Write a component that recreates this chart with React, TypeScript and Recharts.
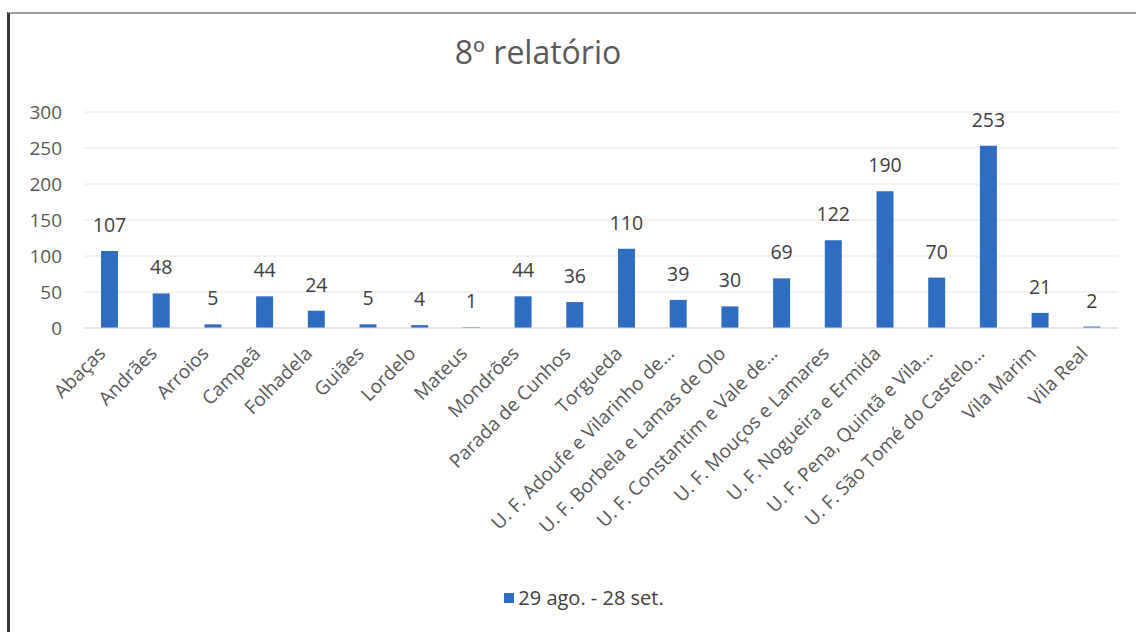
import React from "react";
import {
  BarChart,
  Bar,
  XAxis,
  YAxis,
  CartesianGrid,
  Legend,
  LabelList,
} from "recharts";

const freguesias = [
  "Abaças",
  "Andrães",
  "Arroios",
  "Campeã",
  "Folhadela",
  "Guiães",
  "Lordelo",
  "Mateus",
  "Mondrões",
  "Parada de Cunhos",
  "Torgueda",
  "U. F. Adoufe e Vilarinho de...",
  "U. F. Borbela e Lamas de Olo",
  "U. F. Constantim e Vale de...",
  "U. F. Mouços e Lamares",
  "U. F. Nogueira e Ermida",
  "U. F. Pena, Quintã e Vila...",
  "U. F. São Tomé do Castelo...",
  "Vila Marim",
  "Vila Real",
];

const casos = [107, 48, 5, 44, 24, 5, 4, 1, 44, 36, 110, 39, 30, 69, 122, 190, 70, 253, 21, 2];

const yTicks = [0, 50, 100, 150, 200, 250, 300];

const serieNome = "29 ago. - 28 set.";

const data = freguesias.map((nome, i) => ({ nome, casos: casos[i] }));

const FONT = "'Open Sans', Lato, sans-serif";
const AZUL = "#2E6DC2";

const RotatedTick = (props: any) => {
  const { x, y, payload } = props;
  return (
    <g transform={`translate(${x - 8},${y + 14})`}>
      <text
        transform="rotate(-45)"
        textAnchor="end"
        dy="0.35em"
        fill="#595959"
        fontSize={19}
        fontFamily={FONT}
      >
        {payload.value}
      </text>
    </g>
  );
};

const LegendaSerie = () => (
  <div
    style={{
      display: "flex",
      alignItems: "center",
      justifyContent: "center",
      fontFamily: FONT,
      fontSize: 20,
      color: "#404040",
      paddingLeft: 50,
    }}
  >
    <span
      style={{
        width: 10,
        height: 10,
        background: AZUL,
        display: "inline-block",
        marginRight: 4,
      }}
    />
    {serieNome}
  </div>
);

export default function App() {
  return (
    <div style={{ position: "absolute", left: 0, top: 0, width: 1136, height: 632, background: "#fff", overflow: "hidden" }}>
      <div
        style={{
          position: "absolute",
          left: 7,
          top: 12,
          width: 1126,
          height: 640,
          borderLeft: "3px solid #333",
          borderTop: "2px solid #9a9a9a",
          borderRight: "1px solid #d0d0d0",
        }}
      />
      <div
        style={{
          position: "absolute",
          left: 0,
          width: 1076,
          top: 30,
          textAlign: "center",
          fontFamily: FONT,
          fontSize: 32,
          color: "#595959",
        }}
      >
        8º relatório
      </div>
      <div style={{ position: "absolute", left: 0, top: 0 }}>
        <BarChart
          width={1136}
          height={632}
          data={data}
          margin={{ top: 112, right: 18, left: 0, bottom: 20 }}
          barCategoryGap="33%"
        >
          <CartesianGrid vertical={false} stroke="#e6e6e6" />
          <XAxis
            dataKey="nome"
            interval={0}
            tickLine={false}
            axisLine={{ stroke: "#d9d9d9" }}
            tick={<RotatedTick />}
            height={256}
          />
          <YAxis
            domain={[0, 300]}
            ticks={yTicks}
            width={84}
            tickLine={false}
            axisLine={false}
            tickSize={0}
            tickMargin={22}
            tick={{ fill: "#595959", fontSize: 19, fontFamily: FONT }}
          />
          <Legend verticalAlign="bottom" height={28} content={<LegendaSerie />} />
          <Bar dataKey="casos" name={serieNome} fill={AZUL} barSize={17} isAnimationActive={false}>
            <LabelList
              dataKey="casos"
              position="top"
              offset={19}
              fill="#404040"
              fontSize={19.5}
              fontFamily={FONT}
            />
          </Bar>
        </BarChart>
      </div>
    </div>
  );
}
